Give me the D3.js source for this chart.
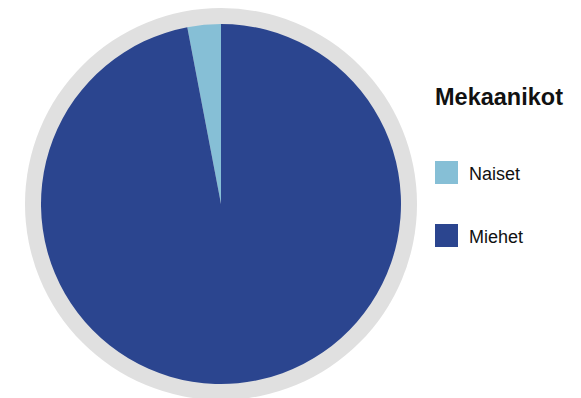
<!DOCTYPE html>
<html>
<head>
<meta charset="utf-8">
<script src="https://cdn.jsdelivr.net/npm/d3@7"></script>
<style>
html,body{margin:0;padding:0;background:#fff;}
svg{display:block;}
text{font-family:"Liberation Sans",Arial,sans-serif;fill:#111;}
</style>
</head>
<body>
<svg id="chart" width="581" height="398"></svg>
<script>
const title = "Mekaanikot";
const categories = ["Naiset", "Miehet"];
const values = [3, 97];
const colors = ["#86bfd6", "#2b458f"];

const svg = d3.select("#chart");
const cx = 221, cy = 204, r = 180, ringR = 196;

const g = svg.append("g").attr("transform", `translate(${cx},${cy})`);
g.append("circle").attr("r", ringR).attr("fill", "#e0e0e0");

const pie = d3.pie().sort(null).value(d => d.v)
  .startAngle(0).endAngle(-2 * Math.PI);
const arc = d3.arc().innerRadius(0).outerRadius(r);
const data = categories.map((c, i) => ({c, v: values[i], col: colors[i]}));
g.selectAll("path.slice").data(pie(data)).join("path")
  .attr("class", "slice")
  .attr("d", arc)
  .attr("fill", d => d.data.col);

const lg = svg.append("g");
lg.append("text").attr("x", 435).attr("y", 105)
  .attr("font-size", 23.5).attr("font-weight", "bold").text(title);
const yScale = d3.scalePoint().domain(categories).range([161, 224]);
categories.forEach((c, i) => {
  lg.append("rect").attr("x", 435).attr("y", yScale(c)).attr("width", 23).attr("height", 23)
    .attr("fill", colors[i]);
  lg.append("text").attr("x", 469).attr("y", yScale(c) + 19)
    .attr("font-size", 18).text(c);
});
</script>
</body>
</html>
